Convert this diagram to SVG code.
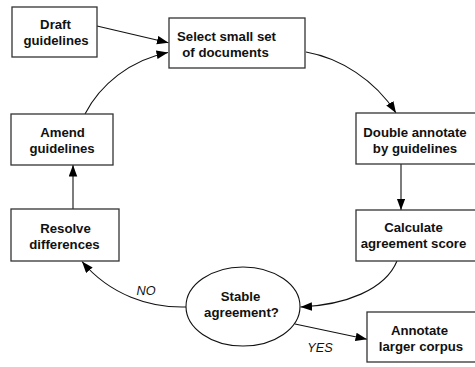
<svg xmlns="http://www.w3.org/2000/svg" width="475" height="367" viewBox="0 0 475 367">
<style>
.box{fill:#fff;stroke:#333;stroke-width:1.3}
.t{font-family:"Liberation Sans",Arial,sans-serif;font-weight:bold;font-size:13.2px;fill:#111;text-anchor:middle}
.lbl{font-family:"Liberation Sans",Arial,sans-serif;font-style:italic;font-size:12.7px;fill:#111;text-anchor:middle}
.c{fill:none;stroke:#111;stroke-width:1.1;marker-end:url(#ah)}
</style>
<defs>
<marker id="ah" markerUnits="userSpaceOnUse" markerWidth="12" markerHeight="9" refX="11.5" refY="4.25" orient="auto">
<path d="M0,0 L11.5,4.25 L0,8.5 z" fill="#000"/>
</marker>
</defs>
<g id="connectors">
<path class="c" d="M97,26 L168.5,42.7"/>
<path class="c" d="M85,114 C100,85 130,60 168,52.5"/>
<path class="c" d="M306,52 C340,58 375,80 396,113"/>
<path class="c" d="M401,164 L401,210"/>
<path class="c" d="M397,261 C385,290 345,305 300.5,307"/>
<path class="c" d="M186,307 C150,308 110,295 82,261.5"/>
<path class="c" d="M295,324 L367,339.3"/>
<path class="c" d="M73,209 L73,165"/>
<text class="lbl" x="146" y="295">NO</text>
<text class="lbl" x="320" y="352">YES</text>
</g>
<g id="draft">
<rect class="box" x="12" y="7" width="85" height="50"/>
<text class="t" x="55.5" y="29">Draft</text>
<text class="t" x="56" y="45">guidelines</text>
</g>
<g id="select">
<rect class="box" x="169" y="18" width="136" height="50"/>
<text class="t" x="226.5" y="41">Select small set</text>
<text class="t" x="225.5" y="57">of documents</text>
</g>
<g id="double">
<rect class="box" x="356" y="113" width="121" height="51"/>
<text class="t" x="415" y="137">Double annotate</text>
<text class="t" x="415" y="153">by guidelines</text>
</g>
<g id="calculate">
<rect class="box" x="356" y="210" width="121" height="51"/>
<text class="t" x="413.5" y="232">Calculate</text>
<text class="t" x="413.5" y="248">agreement score</text>
</g>
<g id="amend">
<rect class="box" x="11" y="114" width="102" height="51"/>
<text class="t" x="62.5" y="137">Amend</text>
<text class="t" x="62" y="153">guidelines</text>
</g>
<g id="resolve">
<rect class="box" x="11" y="209" width="108" height="52"/>
<text class="t" x="65.5" y="233">Resolve</text>
<text class="t" x="64.5" y="249">differences</text>
</g>
<g id="stable">
<ellipse cx="243" cy="306.5" rx="57" ry="39.5" fill="#fff" stroke="#111" stroke-width="1.1"/>
<text class="t" x="240.5" y="301">Stable</text>
<text class="t" x="241.5" y="317">agreement?</text>
</g>
<g id="annotate">
<rect class="box" x="367" y="312" width="110" height="50"/>
<text class="t" x="419.5" y="335">Annotate</text>
<text class="t" x="421" y="351">larger corpus</text>
</g>
</svg>
